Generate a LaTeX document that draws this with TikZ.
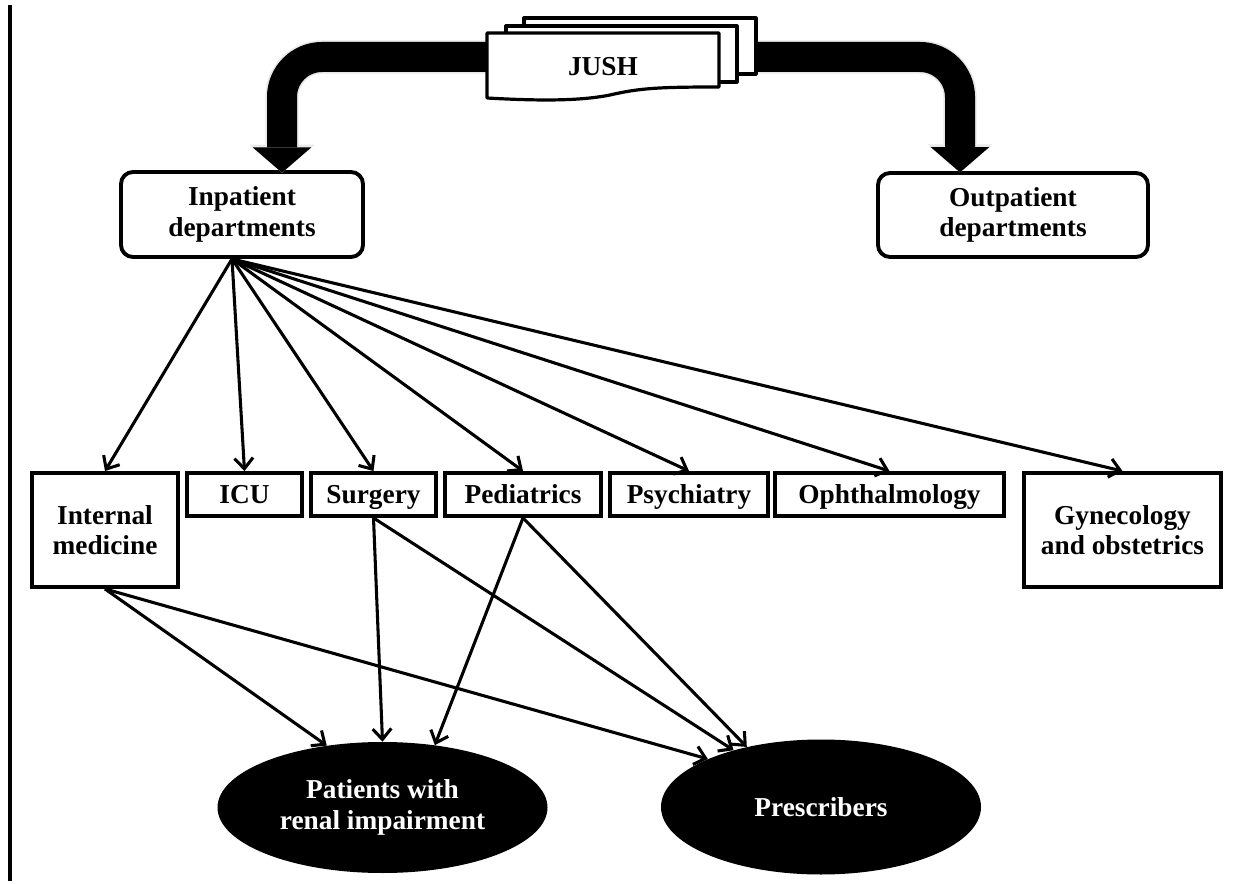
\documentclass[tikz,border=0pt]{standalone}
\usepackage{fontspec}
\setmainfont{Liberation Serif}
\usetikzlibrary{arrows.meta,shapes.geometric}

\tikzset{
  dept/.style={draw, line width=2.9pt, fill=white, align=center, inner sep=2pt},
  oneline/.style={dept, minimum height=32.25pt, text height=15.5pt, text depth=2.7pt},
  hub/.style={dept, rounded corners=9pt},
  target/.style={ellipse, fill=black, text=white, align=center, inner sep=0pt},
  link/.style={line width=2.3pt, -{Straight Barb[length=8pt,width=14pt]}},
  bigarrow/.style={line width=22.5pt, rounded corners=30pt, -{Triangle[length=19pt,width=44pt,line width=0pt]}},
  glow/.style={line width=25pt, rounded corners=30pt, draw=black!9, -{Triangle[length=21pt,width=49pt,line width=0pt]}},
  page/.style={draw, line width=2.4pt, fill=white, line join=round}
}

\begin{document}
\begin{tikzpicture}[x=0.75pt,y=0.75pt,yscale=-1,xscale=1,
  font=\fontsize{20.5}{23}\selectfont\bfseries]
\useasboundingbox (0,0) rectangle (1250,884);

%Straight Lines
\draw [line width=2.4pt] (10,5) -- (10,881) ;

% Hubs
\node [hub, minimum width=181.5pt, minimum height=63.75pt] (inpat) at (242,214.5) {Inpatient\\departments};
\node [hub, minimum width=202.5pt, minimum height=63pt] (outpat) at (1013,215) {Outpatient\\departments};

% Block arrows out of JUSH
\coordinate (jushmid) at (603,57);
\coordinate (intip) at ([xshift=30pt,yshift=2pt]inpat.north);
\coordinate (outtip) at ([xshift=-39.75pt,yshift=1pt]outpat.north);
\draw [glow] (jushmid) -| (intip) ;
\draw [glow] (jushmid) -| (outtip) ;
\draw [bigarrow] (jushmid) -| (intip) ;
\draw [bigarrow] (jushmid) -| (outtip) ;

%Shape: Multidocument
\draw [page] (524,18) rectangle (756,74) ;
\draw [page] (506,26) rectangle (737,82) ;
\draw [page] (487,33) -- (719,33) -- (719,87) .. controls (660,87) and (640,88) .. (610,95) .. controls (580,101) and (540,101) .. (487,98) -- cycle ;
% Text Node
\node (jush) at (603,67) {JUSH};

% Departments
\node [dept, minimum width=109.5pt, minimum height=85.5pt] (intmed) at (105,530) {Internal\\medicine};
\node [oneline, minimum width=86.25pt] (icu) at (244.5,494.5) {ICU};
\node [oneline, minimum width=93.75pt] (surg) at (373.5,494.5) {Surgery};
\node [oneline, minimum width=117pt] (ped) at (523,494.5) {Pediatrics};
\node [oneline, minimum width=118.5pt] (psy) at (689,494.5) {Psychiatry};
\node [oneline, minimum width=171.75pt] (oph) at (889.5,494.5) {Ophthalmology};
\node [dept, minimum width=147.75pt, minimum height=85.5pt] (gyn) at (1122.5,530) {Gynecology\\and obstetrics};

% Targets
\node [target, minimum width=247.5pt, minimum height=98.25pt] (pat) at (382.5,807.5) {Patients with\\renal impairment};
\node [target, minimum width=240pt, minimum height=101.25pt] (pres) at (821,807) {Prescribers};

%Straight Lines
\coordinate (fan) at ([xshift=-7.5pt]inpat.south);
\draw [link] (fan) -- (intmed.north) ;
\draw [link] (fan) -- (icu.north) ;
\draw [link] (fan) -- (surg.north) ;
\draw [link] (fan) -- (ped.north) ;
\draw [link] (fan) -- (psy.north) ;
\draw [link] (fan) -- (oph.north) ;
\draw [link] (fan) -- (gyn.north) ;

%Straight Lines
\draw [link] (intmed.south) -- (pat.132) ;
\draw [link] (intmed.south) -- (pres.157) ;
\draw [link] (surg.south) -- (pat.north) ;
\draw [link] (surg.south) -- (pres.147) ;
\draw [link] (ped.south) -- (pat.50) ;
\draw [link] (ped.south) -- (pres.141) ;
\end{tikzpicture}
\end{document}
